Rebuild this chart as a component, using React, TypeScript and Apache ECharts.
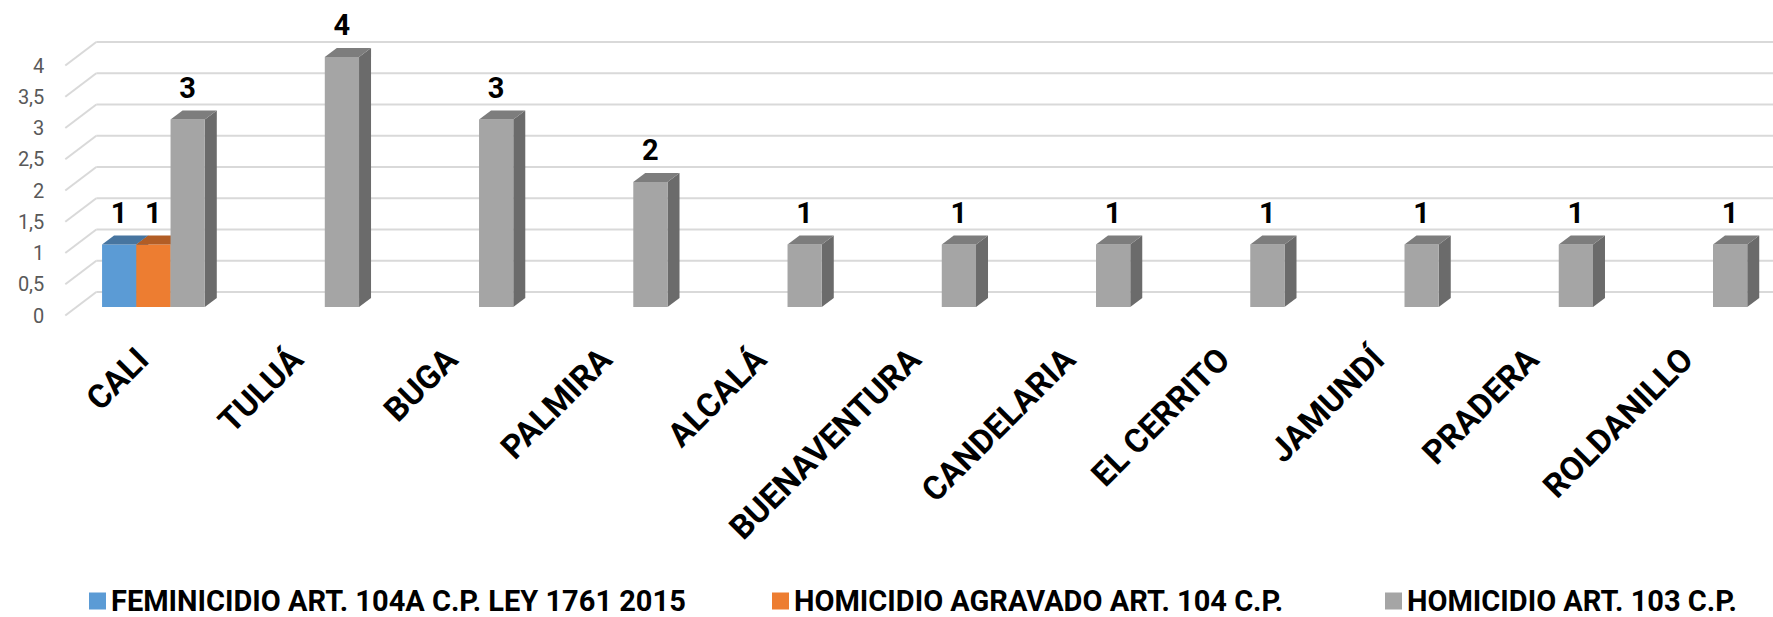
import React, { useEffect, useRef } from "react";
import * as echarts from "echarts";

const categories = ["CALI", "TULUÁ", "BUGA", "PALMIRA", "ALCALÁ", "BUENAVENTURA", "CANDELARIA", "EL CERRITO", "JAMUNDÍ", "PRADERA", "ROLDANILLO"];
const seriesNames = ["FEMINICIDIO ART. 104A C.P. LEY 1761 2015", "HOMICIDIO AGRAVADO ART. 104 C.P.", "HOMICIDIO ART. 103 C.P."];
const feminicidio = [1, null, null, null, null, null, null, null, null, null, null];
const agravado = [1, null, null, null, null, null, null, null, null, null, null];
const homicidio = [3, 4, 3, 2, 1, 1, 1, 1, 1, 1, 1];
const yTicks = [0, 0.5, 1, 1.5, 2, 2.5, 3, 3.5, 4];

const palette = [
  { front: "#5B9BD5", top: "#4775A0", side: "#3F6B95" },
  { front: "#ED7D31", top: "#B25D25", side: "#A0541F" },
  { front: "#A5A5A5", top: "#7D7D7D", side: "#6B6B6B" },
];

const DEPTH_DX = 12, DEPTH_DY = -9;
const BACK_DX = 20, BACK_DY = -15;
const FRONT_DX = -11, FRONT_DY = 8.5;
const BAR_RATIO = 0.222;
const BOLD = "Roboto";

function barRender(s: number) {
  const c = palette[s];
  return (params: any, api: any) => {
    const cat = api.value(0);
    const v = api.value(1);
    const top = api.coord([cat, v]);
    const bot = api.coord([cat, 0]);
    const band = api.size([1, 0])[0];
    const bw = band * BAR_RATIO;
    const xL = top[0] - 1.5 * bw + s * bw;
    const xR = xL + bw;
    const yT = top[1];
    const yB = bot[1];
    return {
      type: "group",
      children: [
        { type: "polygon", shape: { points: [[xR, yT], [xR + DEPTH_DX, yT + DEPTH_DY], [xR + DEPTH_DX, yB + DEPTH_DY], [xR, yB]] }, style: { fill: c.side } },
        { type: "rect", shape: { x: xL, y: yT, width: bw, height: yB - yT }, style: { fill: c.front } },
        { type: "polygon", shape: { points: [[xL, yT], [xR, yT], [xR + DEPTH_DX, yT + DEPTH_DY], [xL + DEPTH_DX, yT + DEPTH_DY]] }, style: { fill: c.top } },
        { type: "text", style: { text: String(v), x: xL + bw / 2, y: yT - 32, align: "center", verticalAlign: "middle", fontSize: 29, fontWeight: "bold", fontFamily: BOLD, fill: "#000" } },
      ],
    };
  };
}

function gridRender(params: any, api: any) {
  const v = api.value(1);
  const p = api.coord([0, v]);
  const cs = params.coordSys;
  const y = p[1];
  const xb = cs.x + BACK_DX;
  const yb = y + BACK_DY;
  const st = { stroke: "#D9D9D9", lineWidth: 2 };
  return {
    type: "group",
    children: [
      { type: "line", shape: { x1: xb, y1: yb, x2: cs.x + cs.width + BACK_DX + 20, y2: yb }, style: st },
      { type: "line", shape: { x1: xb, y1: yb, x2: cs.x + FRONT_DX, y2: y + FRONT_DY }, style: st },
    ],
  };
}

const toData = (arr: (number | null)[]) => arr.map((v, i) => (v == null ? null : [i, v])).filter((d) => d !== null);

export default function App() {
  const ref = useRef<HTMLDivElement>(null);
  useEffect(() => {
    if (!ref.current) return;
    const chart = echarts.init(ref.current, null, { renderer: "svg" });
    const gridLeft = 76.3, gridWidth = 1699, gridTop = 57, gridHeight = 250;
    const legendBase = {
      top: 586,
      padding: 0,
      itemWidth: 17,
      itemHeight: 17,
      icon: "rect",
      textStyle: { fontFamily: BOLD, fontWeight: "bold", fontSize: 29, lineHeight: 30, color: "#000" },
      selectedMode: false,
    };
    const allSeries = [feminicidio, agravado, homicidio];
    chart.setOption({
      animation: false,
      grid: [
        { left: gridLeft, width: gridWidth, top: gridTop, height: gridHeight },
        { left: gridLeft + FRONT_DX, width: gridWidth, top: gridTop + FRONT_DY, height: gridHeight },
      ],
      xAxis: [
        { type: "category", gridIndex: 0, data: categories, show: false },
        {
          type: "category", gridIndex: 1, data: categories,
          axisLine: { show: false }, axisTick: { show: false },
          axisLabel: { interval: 0, rotate: 45, margin: 38, fontFamily: BOLD, fontWeight: "bold", fontSize: 33, color: "#000" },
        },
      ],
      yAxis: [
        { type: "value", gridIndex: 0, min: 0, max: 4, interval: 0.5, show: false },
        {
          type: "value", gridIndex: 1, min: 0, max: 4, interval: 0.5,
          axisLine: { show: false }, axisTick: { show: false }, splitLine: { show: false },
          axisLabel: { margin: 21, fontFamily: "Roboto", fontSize: 20, color: "#595959", formatter: (v: number) => String(v).replace(".", ",") },
        },
      ],
      legend: seriesNames.map((n, i) => ({ ...legendBase, data: [n], left: [89, 772, 1385][i] })),
      series: [
        {
          type: "custom", name: "grid", xAxisIndex: 0, yAxisIndex: 0, z: 1, silent: true,
          renderItem: gridRender, data: yTicks.map((v) => [0, v]),
        },
        ...allSeries.map((arr, s) => ({
          type: "custom", name: seriesNames[s], xAxisIndex: 0, yAxisIndex: 0, z: 2 + s,
          itemStyle: { color: palette[s].front },
          renderItem: barRender(s), data: toData(arr),
        })),
      ],
    });
    return () => chart.dispose();
  }, []);
  return <div ref={ref} style={{ position: "absolute", left: 0, top: 0, width: 1773, height: 617 }} />;
}
